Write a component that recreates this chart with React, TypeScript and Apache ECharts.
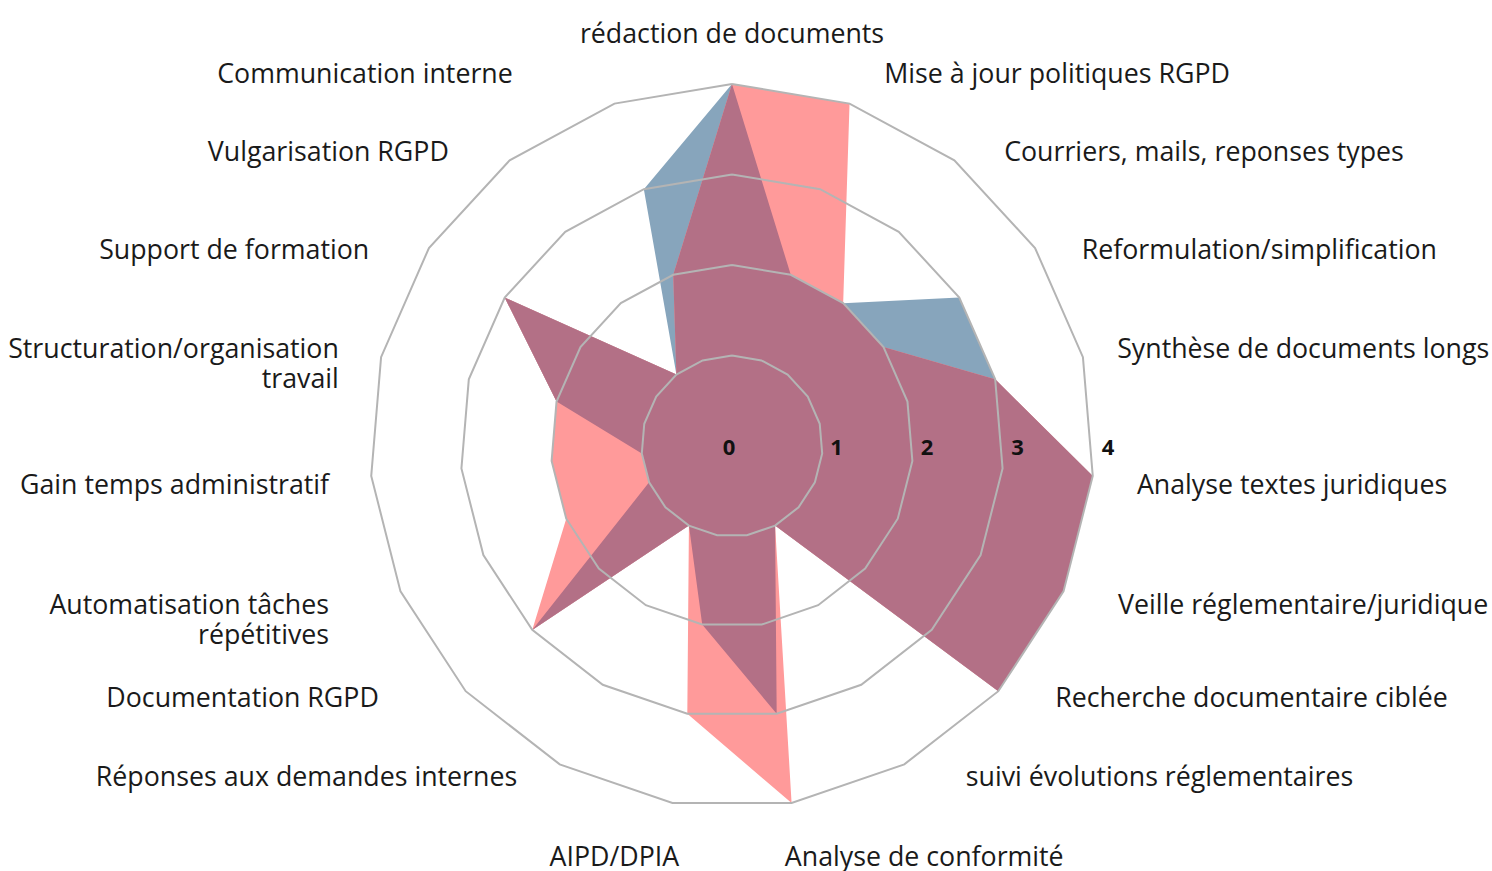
import React, { useEffect, useRef } from 'react';
import * as echarts from 'echarts';

// Indicators, clockwise from the top
const categories = [
  'rédaction de documents',
  'Mise à jour politiques RGPD',
  'Courriers, mails, reponses types',
  'Reformulation/simplification',
  'Synthèse de documents longs',
  'Analyse textes juridiques',
  'Veille réglementaire/juridique',
  'Recherche documentaire ciblée',
  'suivi évolutions réglementaires',
  'Analyse de conformité',
  'AIPD/DPIA',
  'Réponses aux demandes internes',
  'Documentation RGPD',
  'Automatisation tâches\nrépétitives',
  'Gain temps administratif',
  'Structuration/organisation\ntravail',
  'Support de formation',
  'Vulgarisation RGPD',
  'Communication interne',
];

const seriesBlue = [4, 2, 2, 3, 3, 4, 4, 4, 1, 3, 2, 1, 3, 1, 1, 2, 3, 1, 3];
const seriesRed = [4, 4, 2, 2, 3, 4, 4, 4, 1, 4, 3, 1, 3, 2, 2, 2, 3, 1, 2];
const radialTicks = [0, 1, 2, 3, 4];

// label nudges (dx, dy) in px from the radar name anchor, one per category (style only)
const labelNudge: [number, number][] = [
  [0, -78], [48, -70], [75, -42], [81, -22], [74, -20], [85, 11], [92, 29], [87, 33], [81, 47], [0, 93],
  [0, 93], [-62, 47], [-117, 33], [-109, 44], [-83, 11], [-82, -5], [-94, -22], [-86, -42], [-115, -70],
];

const FONT = "'Open Sans', 'Noto Sans', sans-serif";
const LABEL_SIZE = 26.75;
const LABEL_LH = 30;
const LABEL_COLOR = '#1a1a1a';

// ECharts radar runs counter-clockwise: reorder so the picture runs clockwise
const n = categories.length;
const order = categories.map((_, i) => (n - i) % n);
const reorder = (arr: number[]) => order.map((k) => arr[k]);

const rich: Record<string, any> = {};
categories.forEach((name, i) => {
  const lines = name.split('\n');
  const [dx, dy] = labelNudge[i];
  const top = dy > 0 ? dy * 2 : 0;
  const bottom = dy < 0 ? -dy * 2 : 0;
  const left = dx > 0 ? dx : 0;
  const right = dx < 0 ? -dx : 0;
  lines.forEach((_, j) => {
    rich[`L${i}x${j}`] = {
      fontSize: LABEL_SIZE,
      fontFamily: FONT,
      color: LABEL_COLOR,
      lineHeight: LABEL_LH,
      padding: [top, right, bottom, left],
    };
  });
});
const formatName = (name: string) => {
  const i = categories.indexOf(name);
  return name
    .split('\n')
    .map((ln, j) => `{L${i}x${j}|${ln}}`)
    .join('\n');
};

export default function App() {
  const ref = useRef<HTMLDivElement>(null);
  useEffect(() => {
    if (!ref.current) return;
    const chart = echarts.init(ref.current, undefined, { renderer: 'svg' });
    const maxV = radialTicks[radialTicks.length - 1];
    const overlap = seriesBlue.map((v, i) => Math.min(v, seriesRed[i]));
    const area = (name: string, values: number[], color: string, z: number) => ({
      type: 'radar',
      symbol: 'none',
      z,
      silent: true,
      data: [
        {
          name,
          value: reorder(values),
          areaStyle: { color, opacity: 1 },
          lineStyle: { width: 0, opacity: 0 },
        },
      ],
    });
    chart.setOption({
      animation: false,
      backgroundColor: '#ffffff',
      radar: {
        center: [732, 446],
        radius: 362,
        startAngle: 90,
        shape: 'polygon',
        splitNumber: radialTicks.length - 1,
        z: 5,
        nameGap: -41,
        indicator: order.map((k) => ({ name: categories[k], min: 0, max: maxV })),
        axisName: {
          color: LABEL_COLOR,
          fontSize: LABEL_SIZE,
          fontFamily: FONT,
          lineHeight: LABEL_LH,
          formatter: formatName,
          rich,
        },
        axisLine: { show: false },
        axisTick: { show: false },
        axisLabel: { show: false },
        splitArea: { show: false },
        splitLine: { lineStyle: { color: '#b4b4b4', width: 2 } },
      },
      polar: { center: [732, 446], radius: 362 },
      angleAxis: { type: 'value', startAngle: 0, min: 0, max: 360, show: false },
      radiusAxis: {
        type: 'value',
        min: 0,
        max: maxV,
        interval: 1,
        z: 10,
        axisLine: { show: false },
        axisTick: { show: false },
        splitLine: { show: false },
        splitArea: { show: false },
        axisLabel: {
          show: true,
          margin: 0,
          align: 'center',
          verticalAlign: 'middle',
          fontSize: 22,
          fontWeight: 'bold',
          fontFamily: FONT,
          color: '#111111',
          formatter: (v: number) => (v === 0 ? `{z|${v}}` : `{n|${v}}`),
          rich: {
            z: { fontSize: 22, fontWeight: 'bold', fontFamily: FONT, color: '#111111', padding: [0, 6, 0, 0] },
            n: { fontSize: 22, fontWeight: 'bold', fontFamily: FONT, color: '#111111', padding: [0, 0, 0, 28] },
          },
        },
      },
      series: [
        area('Série 1', seriesBlue, '#87a5bc', 2),
        area('Série 2', seriesRed, '#ff9a9a', 3),
        area('Série 1 ∩ Série 2', overlap, '#b37086', 4),
      ],
    });
    return () => chart.dispose();
  }, []);
  return (
    <div
      ref={ref}
      style={{ position: 'fixed', left: 0, top: 0, width: 1492, height: 871 }}
    />
  );
}
